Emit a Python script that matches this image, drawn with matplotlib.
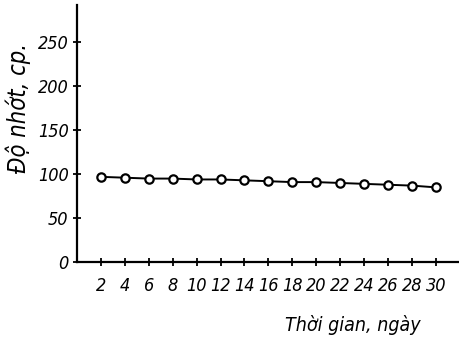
import matplotlib.pyplot as plt

# data
days = [2, 4, 6, 8, 10, 12, 14, 16, 18, 20, 22, 24, 26, 28, 30]
viscosity = [97, 96, 95, 95, 94, 94, 93, 92, 91, 91, 90, 89, 88, 87, 85]
y_ticks = [0, 50, 100, 150, 200, 250]

fam = ['Liberation Sans Narrow', 'DejaVu Sans']
font = dict(family=fam, style='italic', stretch='condensed', fontsize=13)

dpi = 100
fig = plt.figure(figsize=(460/dpi, 345/dpi), dpi=dpi, facecolor='white')
ax = fig.add_axes([0.167, 0.24, 0.833, 0.745])

ax.plot(days, viscosity, color='black', lw=1.4, marker='o', ms=6,
        mfc='white', mec='black', mew=1.6)

ax.set_xlim(0, 32)
ax.set_ylim(0, 292)
ax.set_xticks(days)
ax.set_yticks(y_ticks)
ax.set_xticklabels([str(d) for d in days], **font)
ax.set_yticklabels([str(v) for v in y_ticks], **font)
ax.tick_params(axis='both', direction='inout', length=6, width=1.3, pad=3)
ax.tick_params(axis='x', pad=8)

for s in ['top', 'right']:
    ax.spines[s].set_visible(False)
for s in ['left', 'bottom']:
    ax.spines[s].set_linewidth(1.6)

ax.set_ylabel('Độ nhớt, cp.', family=fam, style='italic',
              stretch='condensed', fontsize=17)
ax.yaxis.set_label_coords(-0.12, 0.6)
fig.text(0.915, 0.03, 'Thời gian, ngày', ha='right', va='bottom', family=fam,
         style='italic', stretch='condensed', fontsize=14)

fig.savefig('out.png', dpi=dpi)
